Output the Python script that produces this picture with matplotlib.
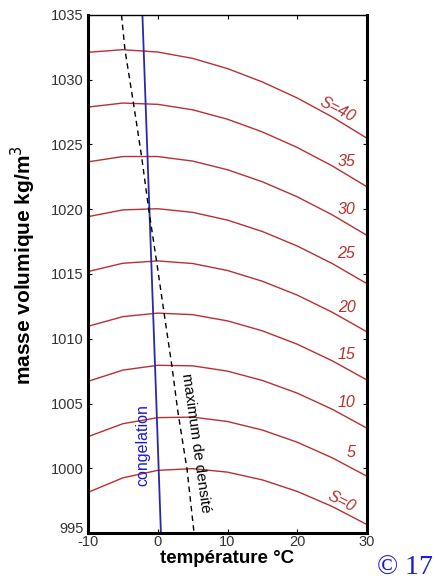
import matplotlib
matplotlib.use("Agg")
import matplotlib.pyplot as plt
import matplotlib.transforms as mtransforms
import numpy as np

plt.rcParams['axes.unicode_minus'] = False

#%% data

temps = [-10, -5, 0, 5, 10, 15, 20, 25, 30]

# density (kg/m3) per salinity curve, at the temperatures above
salinities = [0, 5, 10, 15, 20, 25, 30, 35, 40]
rho = {
    0:  [998.14, 999.26, 999.84, 999.97, 999.70, 999.10, 998.21, 997.05, 995.65],
    5:  [1002.44, 1003.44, 1003.91, 1003.95, 1003.61, 1002.95, 1002.01, 1000.81, 999.38],
    10: [1006.71, 1007.58, 1007.95, 1007.91, 1007.50, 1006.78, 1005.80, 1004.56, 1003.09],
    15: [1010.96, 1011.71, 1011.98, 1011.86, 1011.38, 1010.61, 1009.58, 1008.30, 1006.81],
    20: [1015.19, 1015.83, 1016.01, 1015.81, 1015.27, 1014.44, 1013.37, 1012.05, 1010.53],
    25: [1019.43, 1019.95, 1020.04, 1019.76, 1019.16, 1018.28, 1017.16, 1015.81, 1014.25],
    30: [1023.66, 1024.07, 1024.07, 1023.72, 1023.05, 1022.12, 1020.96, 1019.57, 1017.98],
    35: [1027.89, 1028.20, 1028.10, 1027.68, 1026.95, 1025.97, 1024.77, 1023.35, 1021.73],
    40: [1032.12, 1032.32, 1032.14, 1031.65, 1030.86, 1029.83, 1028.59, 1027.13, 1025.48],
}

# curve labels: text, temperature, density, angle
labels = [
    ("S=40", 25.7, 1027.7, -27),
    ("35", 27.0, 1023.65, 0),
    ("30", 27.0, 1019.95, 0),
    ("25", 27.0, 1016.6, 0),
    ("20", 27.1, 1012.45, 0),
    ("15", 27.1, 1008.75, 0),
    ("10", 27.1, 1005.1, 0),
    ("5", 27.7, 1001.2, 0),
    ("S=0", 26.4, 997.4, -27),
]

# freezing line
frz_t = [-2.2, -1.2, -0.2, 0.45]
frz_rho = [1035, 1020, 1005, 995]

# maximum density line
max_t = [-5.2, -4.7, -3.4, -2.3, -1.3, -0.15, 0.9, 2.0, 2.9, 4.2, 5.2]
max_rho = [1035, 1032.3, 1027.9, 1024.0, 1020, 1015.9, 1012.0, 1008.0, 1004.3, 999.9, 995]

#%% plot

red = '#b83030'
fig = plt.figure(figsize=(4.34, 5.81), dpi=100)
ax = fig.add_axes([0.2028, 0.0826, 0.6429, 0.8916])

for s in salinities:
    ax.plot(temps, rho[s], '-', color=red, linewidth=1.0)

for txt, t, r, ang in labels:
    ax.text(t, r, txt, color=red, fontsize=11.5, style='italic',
            ha='center', va='center', rotation=ang, family='Liberation Sans')

ax.plot(frz_t, frz_rho, '-', color='#2a2aa8', linewidth=1.3)
ax.plot(max_t, max_rho, '--', color='k', linewidth=1.0, dashes=(4, 3))

ax.text(-2.1, 1001.8, 'congelation', color='#1a1ad0', fontsize=11.5,
        rotation=90, ha='center', va='center', family='Liberation Sans')
ax.text(5.5, 1001.95, 'maximum de densité', color='k', fontsize=11,
        rotation=-82, ha='center', va='center', family='Liberation Sans')

ax.set_xlim(-10, 30)
ax.set_ylim(995, 1035)
ax.set_xticks([-10, 0, 10, 20, 30])
ax.set_yticks(np.arange(995, 1036, 5))
ax.tick_params(direction='in', length=3, top=True, right=True,
               labelsize=10.5, labelcolor='#333333', pad=3)
ax.tick_params(axis='x', pad=1.5)
for lab in ax.get_xticklabels() + ax.get_yticklabels():
    lab.set_family('Liberation Sans')

# lift the "995" label a little so it sits above "-10"
lab0 = ax.yaxis.get_major_ticks()[0].label1
lab0.set_transform(lab0.get_transform() +
                   mtransforms.ScaledTranslation(0, 4 / 72, fig.dpi_scale_trans))

for side in ['left', 'bottom', 'right']:
    ax.spines[side].set_linewidth(2.2)
ax.spines['top'].set_linewidth(1.0)

ax.set_xlabel('température °C', fontsize=13.5, fontweight='bold',
              family='Liberation Sans', va='center')
ax.set_ylabel('masse volumique kg/m$^3$', fontsize=15, fontweight='bold',
              family='Liberation Sans', va='center')
ax.xaxis.set_label_coords(0.5, -0.05)
ax.yaxis.set_label_coords(-0.233, 0.517)

fig.text(0.869, 0.0103, '© 17', color='#1a1ae0', fontsize=20,
         family='Liberation Serif', ha='left', va='baseline')

plt.savefig('out.png', dpi=100)
